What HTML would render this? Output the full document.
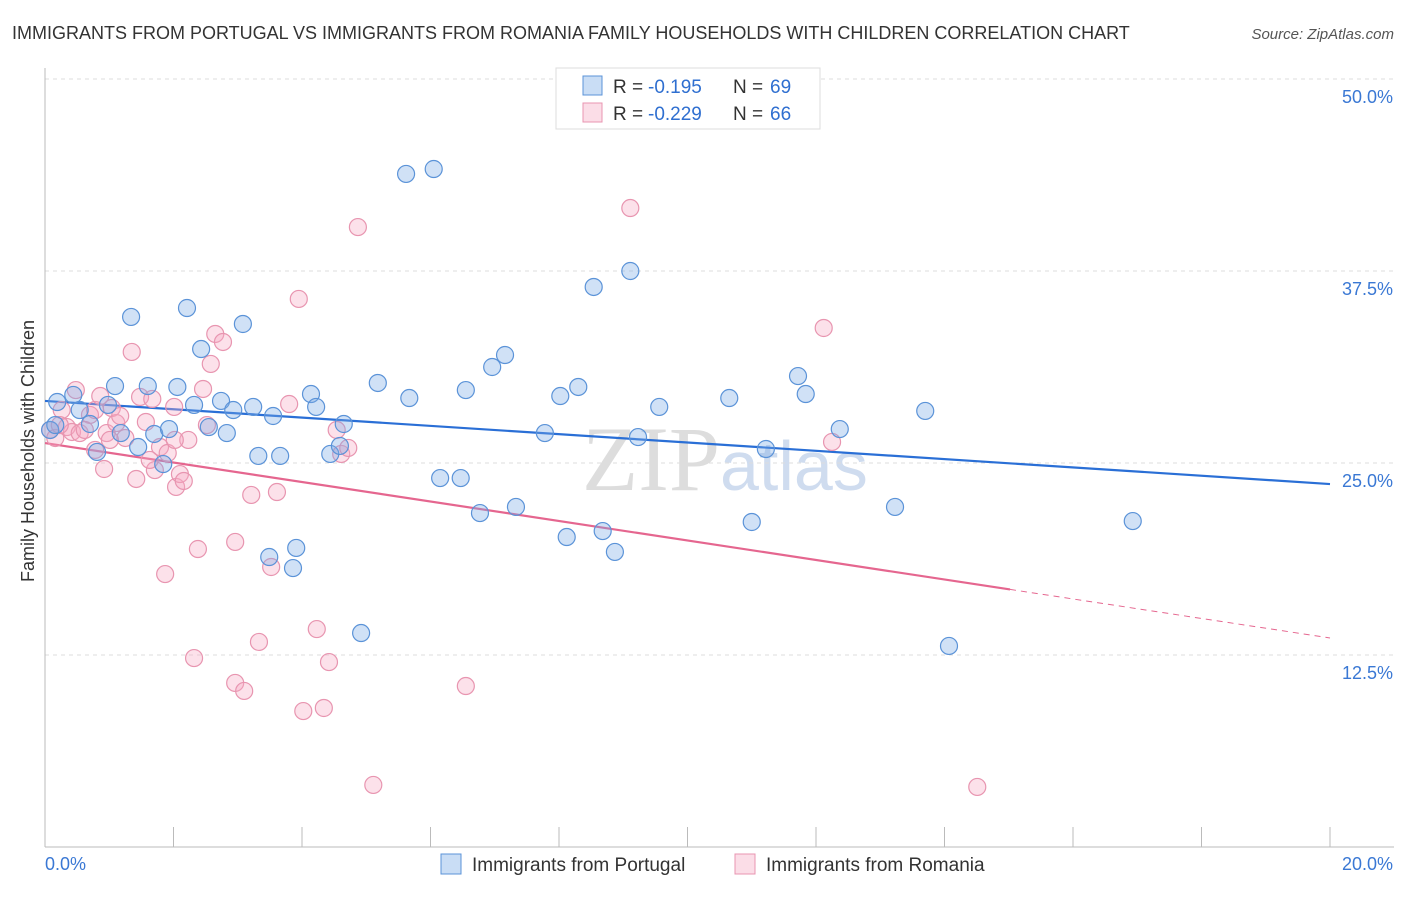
<!DOCTYPE html>
<html><head><meta charset="utf-8"><style>
body{margin:0;background:#fff;font-family:"Liberation Sans",sans-serif;}
</style></head><body>
<svg id="chart" width="1406" height="892" xmlns="http://www.w3.org/2000/svg">
<text x="12" y="39" font-size="18" fill="#333">IMMIGRANTS FROM PORTUGAL VS IMMIGRANTS FROM ROMANIA FAMILY HOUSEHOLDS WITH CHILDREN CORRELATION CHART</text>
<text x="1394" y="39" font-size="15" fill="#555" font-style="italic" text-anchor="end">Source: ZipAtlas.com</text>
<text x="720" y="490" font-size="92" fill="#ddd" text-anchor="end" font-family="Liberation Serif,serif">ZIP</text>
<text x="720" y="490" font-size="70" fill="#cfdcef">atlas</text>
<g id="grid"></g><g id="axes"></g><g id="trend"></g><g id="pts"></g>
<text x="40" y="457" font-size="18" fill="#333" text-anchor="middle" transform="rotate(-90 34 457)">Family Households with Children</text>
<g>
<rect x="556" y="68" width="264" height="61" fill="#fff" stroke="#ddd"/>
<rect x="583" y="76" width="19" height="19" fill="rgba(120,170,230,0.4)" stroke="#5b93d8"/>
<text x="613" y="93" font-size="19" fill="#333">R =</text>
<text x="648" y="93" font-size="19" fill="#2f6fd0">-0.195</text>
<text x="733" y="93" font-size="19" fill="#333">N =</text>
<text x="770" y="93" font-size="19" fill="#2f6fd0">69</text>
<rect x="583" y="103" width="19" height="19" fill="rgba(245,170,195,0.4)" stroke="#e895b0"/>
<text x="613" y="120" font-size="19" fill="#333">R =</text>
<text x="648" y="120" font-size="19" fill="#2f6fd0">-0.229</text>
<text x="733" y="120" font-size="19" fill="#333">N =</text>
<text x="770" y="120" font-size="19" fill="#2f6fd0">66</text>
</g>
<g>
<rect x="441" y="854" width="20" height="20" fill="rgba(120,170,230,0.4)" stroke="#5b93d8"/>
<text x="472" y="871" font-size="19" fill="#333">Immigrants from Portugal</text>
<rect x="735" y="854" width="20" height="20" fill="rgba(245,170,195,0.4)" stroke="#e895b0"/>
<text x="766" y="871" font-size="19" fill="#333">Immigrants from Romania</text>
</g>
</svg>
<script>
const blueX=[0.19,0.44,0.54,0.70,0.81,0.98,1.09,1.18,1.34,1.45,1.60,1.70,1.84,1.93,2.06,2.21,2.32,2.43,2.55,2.74,2.83,2.93,3.08,3.24,3.32,3.55,3.66,3.49,3.91,3.86,4.14,4.22,4.44,4.59,4.65,4.92,5.18,5.62,5.67,6.05,6.15,6.47,6.55,6.77,6.96,7.16,7.33,7.78,8.02,8.12,8.30,8.54,8.68,8.87,9.11,9.23,9.56,10.65,11.00,11.22,11.72,11.84,12.37,13.23,13.70,14.07,16.93,0.08,0.16];
const blueY=[28.97,29.43,28.45,27.54,25.72,28.78,30.01,26.95,34.51,26.04,30.01,26.89,24.93,27.21,29.95,35.09,28.78,32.42,27.34,29.04,26.95,28.45,34.05,28.65,25.46,28.06,25.46,18.88,19.47,18.16,29.49,28.65,25.59,26.11,27.54,13.93,30.21,43.82,29.23,44.14,24.02,24.02,29.75,21.74,31.25,32.03,22.14,26.95,29.36,20.18,29.95,36.46,20.57,19.21,37.50,26.69,28.65,29.23,21.16,25.91,30.66,29.49,27.21,22.14,28.39,13.09,21.22,27.15,27.47];
const pinkX=[0.08,0.16,0.26,0.34,0.42,0.48,0.54,0.70,0.78,0.86,0.92,0.96,1.04,1.11,1.17,1.25,1.35,1.42,1.48,1.57,1.67,1.71,1.79,1.87,1.91,2.01,2.04,2.10,2.16,2.23,2.32,2.38,2.46,2.52,2.58,2.65,2.77,2.96,2.96,3.10,3.21,3.33,3.52,3.61,3.80,3.95,4.02,4.23,4.34,4.42,4.54,4.61,4.72,4.87,5.11,6.55,9.11,12.12,12.25,14.51,0.23,0.62,0.78,1.01,1.63,2.02];
const pinkY=[27.15,26.63,28.45,27.34,27.02,29.75,26.95,28.13,28.45,29.36,24.61,26.95,28.58,27.60,28.06,26.63,32.23,23.96,29.30,27.67,29.17,24.54,26.04,17.77,25.65,28.65,23.44,24.28,23.83,26.50,12.30,19.40,29.82,27.47,31.45,33.40,32.88,19.86,10.68,10.16,22.92,13.35,18.23,23.11,28.84,35.68,8.85,14.19,9.05,12.04,27.15,25.59,25.98,40.36,4.04,10.48,41.60,33.79,26.37,3.91,27.47,27.15,25.85,26.50,25.20,26.50];
const yTicks=[12.5,25,37.5,50];
const yTickLabels=["12.5%","25.0%","37.5%","50.0%"];
const xTicks=[0,2,4,6,8,10,12,14,16,18,20];
const blueTrend=[29.04,23.63];
const pinkTrend=[26.30,13.61];
const pinkSolidEnd=15.02;
const X0=45,X1=1330,Y0=847,Y1=79;
const sx=v=>X0+(v/20)*(X1-X0);
const sy=v=>Y0-(v/50)*(Y0-Y1);
const NS="http://www.w3.org/2000/svg";
function mk(tag,attrs,parent){const e=document.createElementNS(NS,tag);for(const k in attrs)e.setAttribute(k,attrs[k]);document.getElementById(parent).appendChild(e);return e;}
yTicks.forEach((t,i)=>{
 const l=mk('line',{x1:X0,x2:1394,y1:sy(t),y2:sy(t),stroke:'#ddd','stroke-dasharray':'4,4'},'grid');
 
 
 const tx=mk('text',{x:1393,y:sy(t)+24,'font-size':18,fill:'#3a78d4','text-anchor':'end'},'grid');
 tx.textContent=yTickLabels[i];
 
 
});
const ax=mk('line',{x1:X0,x2:1394,y1:Y0,y2:Y0,stroke:'#bbb'},'axes');


const ay=mk('line',{x1:X0,x2:X0,y1:68,y2:Y0,stroke:'#bbb'},'axes');


xTicks.forEach(t=>{
 const l=mk('line',{x1:sx(t),x2:sx(t),y1:827,y2:Y0,stroke:'#bbb'},'axes');
 
 
});
const xl0=mk('text',{x:45,y:870,'font-size':18,fill:'#3a78d4'},'axes');xl0.textContent=xTicks[0].toFixed(1)+'%';


const xl1=mk('text',{x:1393,y:870,'font-size':18,fill:'#3a78d4','text-anchor':'end'},'axes');xl1.textContent=xTicks[xTicks.length-1].toFixed(1)+'%';


function pts(xs,ys,fill,stroke,name){xs.forEach((x,i)=>{
 const c=mk('circle',{cx:sx(x),cy:sy(ys[i]),r:8.5,fill:fill,stroke:stroke,'stroke-width':1.2},'pts');
 
 
});}
pts(pinkX,pinkY,'rgba(245,170,195,0.35)','#e895b0','romania-point');
pts(blueX,blueY,'rgba(120,170,230,0.35)','#5b93d8','portugal-point');
const bt=mk('line',{x1:sx(0),y1:sy(blueTrend[0]),x2:sx(20),y2:sy(blueTrend[1]),stroke:'#2a6fd6','stroke-width':2.2},'trend');


const pm=pinkTrend[0]+(pinkTrend[1]-pinkTrend[0])*pinkSolidEnd/20;
const pt=mk('line',{x1:sx(0),y1:sy(pinkTrend[0]),x2:sx(pinkSolidEnd),y2:sy(pm),stroke:'#e5668f','stroke-width':2.2},'trend');


const pd=mk('line',{x1:sx(pinkSolidEnd),y1:sy(pm),x2:sx(20),y2:sy(pinkTrend[1]),stroke:'#e5668f','stroke-width':1,'stroke-dasharray':'6,5'},'trend');


</script>
</body></html>
